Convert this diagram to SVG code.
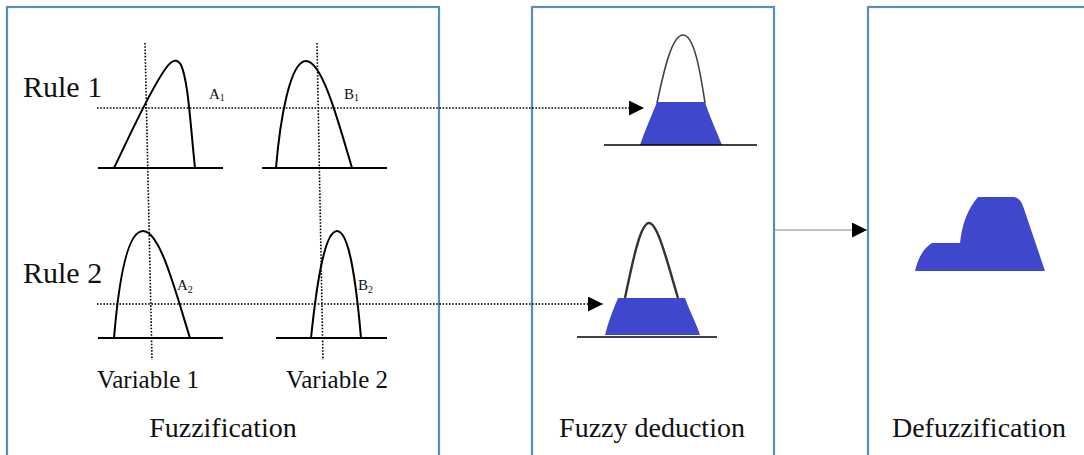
<svg xmlns="http://www.w3.org/2000/svg" width="1084" height="455" viewBox="0 0 1084 455">
  <style>
    .box { fill: #ffffff; stroke: #5b8bc7; stroke-width: 2.2; }
    .t { font-family: "Liberation Serif", "Times New Roman", serif; fill: #111; }
    .mf { fill: none; stroke: #000; stroke-width: 2; stroke-linejoin: round; }
    .axis { stroke: #000; stroke-width: 2; }
    .dot { stroke: #000; stroke-width: 1.6; stroke-dasharray: 1.6 1.6; fill: none; }
    .blue { fill: #3f48cc; }
    .thin { stroke: #000; stroke-width: 1.3; }
  </style>
  <defs>
    <marker id="arr" viewBox="0 0 10 10" refX="10" refY="5" markerWidth="15" markerHeight="15" markerUnits="userSpaceOnUse" orient="auto">
      <path d="M0,0 L10,5 L0,10 Z" fill="#000"/>
    </marker>
  </defs>
  <rect width="1084" height="455" fill="#fff"/>

  <g id="fuzzification">
    <rect class="box" x="7" y="7" width="432" height="460"/>
    <text class="t" x="23" y="97" font-size="30">Rule 1</text>
    <text class="t" x="23" y="283" font-size="30">Rule 2</text>
    <line class="axis" x1="98" y1="168" x2="223" y2="168"/>
    <line class="axis" x1="262" y1="168" x2="387" y2="168"/>
    <path class="mf" d="M114,168 C130,135 150,90 166,68 C172,60 177,58 181,65 C188,80 190,120 195,168"/>
    <path class="mf" d="M276,168 C280,120 290,61 306,61 C322,61 338,120 352,168"/>
    <text class="t" x="209" y="99" font-size="15">A<tspan font-size="10" dy="2">1</tspan></text>
    <text class="t" x="344" y="99" font-size="15">B<tspan font-size="10" dy="2">1</tspan></text>
    <line class="axis" x1="98" y1="338" x2="223" y2="338"/>
    <line class="axis" x1="276" y1="338" x2="387" y2="338"/>
    <path class="mf" d="M114,338 C118,290 126,231 143,231 C160,231 175,290 190,338"/>
    <path class="mf" d="M311,338 C316,290 324,231 337,231 C349,231 356,280 361,338"/>
    <text class="t" x="177" y="290" font-size="15">A<tspan font-size="10" dy="3">2</tspan></text>
    <text class="t" x="358" y="290" font-size="15">B<tspan font-size="10" dy="3">2</tspan></text>
    <line class="dot" x1="145" y1="43" x2="152" y2="360"/>
    <line class="dot" x1="317" y1="43" x2="323" y2="360"/>
    <text class="t" x="148" y="388" font-size="25" text-anchor="middle">Variable 1</text>
    <text class="t" x="337" y="388" font-size="25" text-anchor="middle">Variable 2</text>
    <text class="t" x="223" y="437" font-size="28" text-anchor="middle">Fuzzification</text>
  </g>

  <g id="fuzzy-deduction">
    <rect class="box" x="532" y="7" width="242" height="460"/>
    <path class="blue" d="M657,102 L705,102 C709,115 716,130 722,145 L640,145 C645,130 652,115 657,102 Z"/>
    <path d="M657,103 C664,70 672,35 683,35 C694,35 700,70 705,103" fill="none" stroke="#444" stroke-width="1.6"/>
    <line class="thin" x1="604" y1="145" x2="757" y2="145"/>
    <path class="blue" d="M618,298 L685,298 C690,312 697,325 700,335 L605,335 C608,322 613,310 618,298 Z"/>
    <path d="M625,298 C632,265 640,223 649,223 C658,223 668,265 678,298" fill="none" stroke="#333" stroke-width="2.4"/>
    <line class="thin" x1="577" y1="337" x2="717" y2="337"/>
    <text class="t" x="652" y="437" font-size="28" text-anchor="middle">Fuzzy deduction</text>
  </g>

  <g id="defuzzification">
    <rect class="box" x="868" y="7" width="240" height="460"/>
    <path class="blue" d="M915,271 Q920,250 932,243 L960,243 Q963,214 978,197 L1014,197 Q1020,198 1023,206 L1045,271 Z"/>
    <text class="t" x="979" y="437" font-size="28" text-anchor="middle">Defuzzification</text>
  </g>

  <g id="connectors">
    <line class="dot" x1="97" y1="108" x2="644" y2="108" marker-end="url(#arr)"/>
    <line class="dot" x1="97" y1="304" x2="603" y2="304" marker-end="url(#arr)"/>
    <line x1="774" y1="230" x2="867" y2="230" stroke="#888" stroke-width="1" marker-end="url(#arr)"/>
  </g>
</svg>
